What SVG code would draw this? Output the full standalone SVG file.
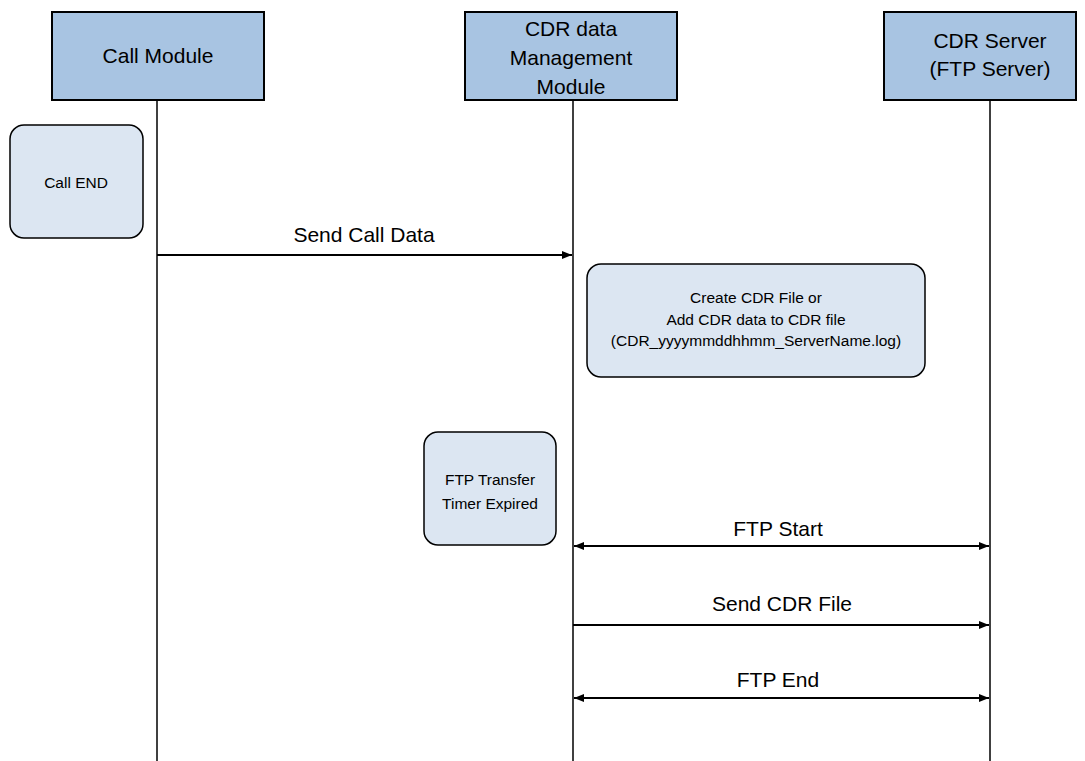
<svg xmlns="http://www.w3.org/2000/svg" width="1085" height="761" viewBox="0 0 1085 761">
<style>
text{font-family:"Liberation Sans",Arial,sans-serif;fill:#000;text-anchor:middle}
.hdr{fill:#a8c4e2;stroke:#000;stroke-width:2}
.act{fill:#dce6f2;stroke:#000;stroke-width:1.5}
.life{stroke:#000;stroke-width:1.5;fill:none}
.msg{stroke:#000;stroke-width:2;fill:none}
.big{font-size:21px}
.small{font-size:15.5px}
</style>
<defs>
<marker id="ah" viewBox="0 0 10 8" refX="10" refY="4" markerWidth="10" markerHeight="8" markerUnits="userSpaceOnUse" orient="auto-start-reverse">
<path d="M0,0 L10,4 L0,8 Z" fill="#000"/>
</marker>
</defs>
<rect width="1085" height="761" fill="#fff"/>
<g id="lifelines">
<line class="life" x1="157" y1="100" x2="157" y2="761"/>
<line class="life" x1="573" y1="100" x2="573" y2="761"/>
<line class="life" x1="990" y1="100" x2="990" y2="761"/>
</g>
<g id="call-module">
<rect class="hdr" x="52" y="12" width="212" height="88"/>
<text class="big" x="158" y="63">Call Module</text>
</g>
<g id="cdr-mgmt">
<rect class="hdr" x="465" y="12" width="212" height="88"/>
<text class="big" x="571" y="36">CDR data</text>
<text class="big" x="571" y="65">Management</text>
<text class="big" x="571" y="94">Module</text>
</g>
<g id="cdr-server">
<rect class="hdr" x="884" y="12" width="192" height="88"/>
<text class="big" x="990" y="48">CDR Server</text>
<text class="big" x="990" y="76">(FTP Server)</text>
</g>
<g id="call-end">
<rect class="act" x="10" y="125" width="133" height="113" rx="14"/>
<text class="small" x="76" y="188">Call END</text>
</g>
<g id="create-cdr">
<rect class="act" x="587" y="264" width="338" height="113" rx="14"/>
<text class="small" x="756" y="303">Create CDR File or</text>
<text class="small" x="756" y="325">Add CDR data to CDR file</text>
<text class="small" x="756" y="346">(CDR_yyyymmddhhmm_ServerName.log)</text>
</g>
<g id="ftp-timer">
<rect class="act" x="424" y="432" width="132" height="113" rx="14"/>
<text class="small" x="490" y="485">FTP Transfer</text>
<text class="small" x="490" y="509">Timer Expired</text>
</g>
<g id="connectors">
<line class="msg" x1="157" y1="255" x2="572" y2="255" marker-end="url(#ah)"/>
<text class="big" x="364" y="242">Send Call Data</text>
<line class="msg" x1="574" y1="546" x2="989" y2="546" marker-start="url(#ah)" marker-end="url(#ah)"/>
<text class="big" x="778" y="536">FTP Start</text>
<line class="msg" x1="573" y1="625" x2="989" y2="625" marker-end="url(#ah)"/>
<text class="big" x="782" y="611">Send CDR File</text>
<line class="msg" x1="574" y1="698" x2="989" y2="698" marker-start="url(#ah)" marker-end="url(#ah)"/>
<text class="big" x="778" y="687">FTP End</text>
</g>
</svg>
